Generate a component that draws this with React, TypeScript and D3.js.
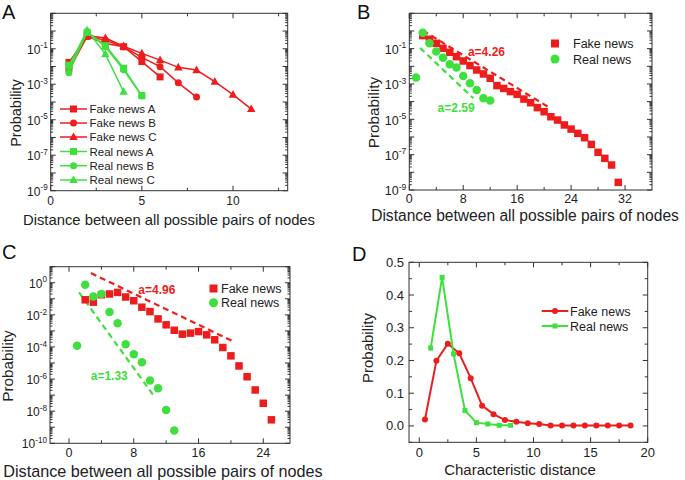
import React from 'react';
import * as d3 from 'd3';

const RED = '#ee1d1d';
const GREEN = '#3ee03e';
const FONT = 'Liberation Sans, Arial, sans-serif';

// ---------- Panel A ----------
const fakeA_x = [1, 2, 3, 4, 5, 6];
const fakeA_y = [0.017, 0.5, 0.2, 0.13, 0.019, 0.0026];
const fakeB_x = [1, 2, 3, 4, 5, 6, 7, 8];
const fakeB_y = [0.006, 0.5, 0.3, 0.13, 0.033, 0.0098, 0.0012, 1.9e-4];
const fakeC_x = [1, 2, 3, 4, 5, 6, 7, 8, 9, 10, 11];
const fakeC_y = [0.012, 0.55, 0.4, 0.14, 0.055, 0.023, 0.009, 0.0063, 0.0014, 2.6e-4, 4e-5];
const realA_x = [1, 2, 3, 4, 5];
const realA_y = [0.012, 0.85, 0.15, 0.008, 2.3e-4];
const realB_x = [1, 2, 3, 4, 5];
const realB_y = [0.0045, 0.9, 0.13, 0.0065, 2.2e-4];
const realC_x = [1, 2, 3, 4];
const realC_y = [0.01, 1.1, 0.05, 3.8e-4];
const legendA = ['Fake news A', 'Fake news B', 'Fake news C', 'Real news A', 'Real news B', 'Real news C'];

// ---------- Panel B ----------
const distB_fake = [2, 3, 4, 5, 6, 7, 8, 9, 10, 11, 12, 13, 14, 15, 16, 17, 18, 19, 20, 21, 22, 23, 24, 25, 26, 27, 28, 29, 30, 31];
const probB_fake = [0.55, 0.34, 0.2, 0.105, 0.062, 0.035, 0.02, 0.011, 0.0062, 0.0037, 0.0021, 8.1e-4, 5.6e-4, 3.7e-4, 2.6e-4, 1.4e-4, 8.7e-5, 4.6e-5, 2.7e-5, 1.4e-5, 9.1e-6, 4.8e-6, 2.8e-6, 1.6e-6, 9.1e-7, 3.8e-7, 1.35e-7, 6.2e-8, 2.6e-8, 2.7e-9];
const distB_real = [1, 2, 3, 4, 5, 6, 7, 8, 9, 10, 11, 12];
const probB_real = [0.0023, 0.8, 0.2, 0.068, 0.031, 0.013, 0.0087, 0.0028, 0.0011, 4.6e-4, 1.55e-4, 1.15e-4];
const fitB_fake_x = [2, 20.7];
const fitB_fake_y = [1.05, 4.8e-5];
const fitB_real_x = [1.6, 9.5];
const fitB_real_y = [0.11, 1.55e-4];

// ---------- Panel C ----------
const distC_fake = [2, 3, 4, 5, 6, 7, 8, 9, 10, 11, 12, 13, 14, 15, 16, 17, 18, 19, 20, 21, 22, 23, 24, 25];
const probC_fake = [0.087, 0.062, 0.18, 0.2, 0.25, 0.13, 0.076, 0.03, 0.016, 0.0056, 0.0024, 0.0011, 6.3e-4, 7.3e-4, 9.1e-4, 5.7e-4, 2.8e-4, 9.3e-5, 2.8e-5, 6.6e-6, 1.4e-6, 2.1e-7, 3.1e-8, 2.9e-9];
const distC_real = [1, 2, 3, 4, 5, 6, 7, 8, 9, 10, 11, 12, 13];
const probC_real = [1.2e-4, 0.76, 0.14, 0.2, 0.015, 0.003, 1.5e-4, 3.5e-5, 1.1e-5, 8.1e-7, 2.7e-7, 1.2e-8, 6.2e-10];
const fitC_fake_x = [2.7, 20.3];
const fitC_fake_y = [4.0, 2.2e-4];
const fitC_real_x = [1.24, 10.6];
const fitC_real_y = [0.25, 7.4e-8];

// ---------- Panel D ----------
const charD_fake = [0.5, 1.5, 2.5, 3.5, 4.5, 5.5, 6.5, 7.5, 8.5, 9.5, 10.5, 11.5, 12.5, 13.5, 14.5, 15.5, 16.5, 17.5, 18.5];
const probD_fake = [0.02, 0.199, 0.251, 0.222, 0.146, 0.062, 0.036, 0.018, 0.013, 0.008, 0.006, 0.001, 0.001, 0.001, 0.001, 0.001, 0.001, 0.001, 0.001];
const charD_real = [1, 2, 3, 4, 5, 6, 7, 8];
const probD_real = [0.238, 0.454, 0.22, 0.047, 0.01, 0.006, 0.002, 0.002];

type Sc = (v: number) => number;

function Frame({ x0, x1, y0, y1 }: { x0: number; x1: number; y0: number; y1: number }) {
  return <rect x={x0} y={y0} width={x1 - x0} height={y1 - y0} fill="none" stroke="#333" strokeWidth={1} />;
}

function XTicks({ x, y0, y1, major, minor, labels, fs, dy }: { x: Sc; y0: number; y1: number; major: number[]; minor: number[]; labels: string[]; fs: number; dy: number }) {
  return (
    <g stroke="#333" strokeWidth={1}>
      {major.map((v, i) => (
        <g key={'M' + i}>
          <line x1={x(v)} x2={x(v)} y1={y1} y2={y1 - 5} />
          <line x1={x(v)} x2={x(v)} y1={y0} y2={y0 + 5} />
          <text x={x(v)} y={y1 + dy} textAnchor="middle" fontSize={fs} fill="#222" stroke="none" fontFamily={FONT}>{labels[i]}</text>
        </g>
      ))}
      {minor.map((v, i) => (
        <g key={'m' + i}>
          <line x1={x(v)} x2={x(v)} y1={y1} y2={y1 - 3} />
          <line x1={x(v)} x2={x(v)} y1={y0} y2={y0 + 3} />
        </g>
      ))}
    </g>
  );
}

function LogYTicks({ y, x0, x1, lo, hi, labelExps, fs }: { y: Sc; x0: number; x1: number; lo: number; hi: number; labelExps: number[]; fs: number }) {
  const majors = d3.range(lo, hi + 1);
  const minors: number[] = [];
  majors.slice(0, -1).forEach((e) => {
    for (let k = 2; k <= 9; k++) minors.push(k * Math.pow(10, e));
  });
  return (
    <g stroke="#333" strokeWidth={1}>
      {majors.map((e) => {
        const yy = y(Math.pow(10, e));
        return (
          <g key={'M' + e}>
            <line x1={x0} x2={x0 + 5} y1={yy} y2={yy} />
            <line x1={x1} x2={x1 - 5} y1={yy} y2={yy} />
            {labelExps.includes(e) && (
              <text x={x0 - 3} y={yy + fs * 0.42} textAnchor="end" fontSize={fs} fill="#222" stroke="none" fontFamily={FONT}>
                10<tspan dy={-fs * 0.45} fontSize={fs * 0.68}>{String(e)}</tspan>
              </text>
            )}
          </g>
        );
      })}
      {minors.map((v, i) => (
        <g key={'m' + i}>
          <line x1={x0} x2={x0 + 2.5} y1={y(v)} y2={y(v)} />
          <line x1={x1} x2={x1 - 2.5} y1={y(v)} y2={y(v)} />
        </g>
      ))}
    </g>
  );
}

function Marker({ shape, cx, cy, size, color }: { shape: string; cx: number; cy: number; size: number; color: string }) {
  if (shape === 'square') return <rect x={cx - size / 2} y={cy - size / 2} width={size} height={size} fill={color} />;
  if (shape === 'circle') return <circle cx={cx} cy={cy} r={size / 2} fill={color} />;
  const h = size * 0.9;
  return <path d={`M${cx},${cy - h * 0.6} L${cx + size / 2},${cy + h * 0.4} L${cx - size / 2},${cy + h * 0.4} Z`} fill={color} />;
}

function Series({ xs, ys, x, y, shape, size, color, line, lw }: { xs: number[]; ys: number[]; x: Sc; y: Sc; shape: string; size: number; color: string; line: boolean; lw?: number }) {
  const pts: [number, number][] = xs.map((v, i) => [x(v), y(ys[i])]);
  return (
    <g>
      {line && <path d={d3.line()(pts) || ''} fill="none" stroke={color} strokeWidth={lw || 1.5} />}
      {pts.map((p, i) => <Marker key={i} shape={shape} cx={p[0]} cy={p[1]} size={size} color={color} />)}
    </g>
  );
}

function Dashed({ xs, ys, x, y, color }: { xs: number[]; ys: number[]; x: Sc; y: Sc; color: string }) {
  const pts: [number, number][] = xs.map((v, i) => [x(v), y(ys[i])]);
  return <path d={d3.line()(pts) || ''} fill="none" stroke={color} strokeWidth={2.2} strokeDasharray="6,4" />;
}

export default function App() {
  // Panel A scales
  const xA = d3.scaleLinear().domain([0, 13]).range([50.7, 287.7]);
  const yA = d3.scaleLog().domain([1e-9, 10]).range([190.7, 13.3]);
  // Panel B
  const xB = d3.scaleLinear().domain([0, 36]).range([409.3, 652]);
  const yB = d3.scaleLog().domain([1e-9, 10]).range([190, 13.3]);
  // Panel C
  const xC = d3.scaleLinear().domain([-2.35, 27.3]).range([50, 290]);
  const yC = d3.scaleLog().domain([1e-10, 10]).range([443.3, 266.7]);
  // Panel D
  const xD = d3.scaleLinear().domain([-0.9, 20]).range([409, 647.7]);
  const yD = d3.scaleLinear().domain([-0.05, 0.5]).range([442.3, 262.3]);

  const seriesA = [
    { xs: fakeA_x, ys: fakeA_y, shape: 'square', color: RED },
    { xs: fakeB_x, ys: fakeB_y, shape: 'circle', color: RED },
    { xs: fakeC_x, ys: fakeC_y, shape: 'triangle', color: RED },
    { xs: realA_x, ys: realA_y, shape: 'square', color: GREEN },
    { xs: realB_x, ys: realB_y, shape: 'circle', color: GREEN },
    { xs: realC_x, ys: realC_y, shape: 'triangle', color: GREEN },
  ];
  const legYA = [109, 123, 137, 151.5, 165.7, 180];

  return (
    <svg width={685} height={480} style={{ position: 'absolute', left: 0, top: 0, background: '#fff' }} fontFamily={FONT}>
      <rect width={685} height={480} fill="#fff" />

      {/* ================= Panel A ================= */}
      <text x={2} y={18.5} fontSize={20} fill="#111">A</text>
      <XTicks x={xA} y0={13.3} y1={190.7} major={[0, 5, 10]} minor={[2.5, 7.5, 12.5]} labels={['0', '5', '10']} fs={12} dy={14} />
      <LogYTicks y={yA} x0={50.7} x1={287.7} lo={-9} hi={1} labelExps={[-9, -7, -5, -3, -1]} fs={12} />
      <Frame x0={50.7} x1={287.7} y0={13.3} y1={190.7} />
      {seriesA.map((s, i) => (
        <Series key={i} xs={s.xs} ys={s.ys} x={xA} y={yA} shape={s.shape} size={s.shape === 'triangle' ? 8.5 : 7} color={s.color} line lw={1.5} />
      ))}
      {legendA.map((t, i) => (
        <g key={t}>
          <line x1={60} x2={87} y1={legYA[i]} y2={legYA[i]} stroke={seriesA[i].color} strokeWidth={1.5} />
          <Marker shape={seriesA[i].shape} cx={73.5} cy={legYA[i]} size={seriesA[i].shape === 'triangle' ? 8.5 : 7} color={seriesA[i].color} />
          <text x={89.5} y={legYA[i] + 4} fontSize={11.5} fill="#222">{t}</text>
        </g>
      ))}
      <text x={169} y={225} textAnchor="middle" fontSize={14.8} fill="#222">Distance between all possible pairs of nodes</text>
      <text transform="translate(21,113) rotate(-90)" textAnchor="middle" fontSize={14.5} fill="#222">Probability</text>

      {/* ================= Panel B ================= */}
      <text x={357} y={18.5} fontSize={20} fill="#111">B</text>
      <XTicks x={xB} y0={13.3} y1={190} major={[0, 8, 16, 24, 32]} minor={[4, 12, 20, 28]} labels={['0', '8', '16', '24', '32']} fs={12.5} dy={13} />
      <LogYTicks y={yB} x0={409.3} x1={652} lo={-9} hi={1} labelExps={[-9, -7, -5, -3, -1]} fs={12.5} />
      <Frame x0={409.3} x1={652} y0={13.3} y1={190} />
      <Dashed xs={fitB_fake_x} ys={fitB_fake_y} x={xB} y={yB} color={RED} />
      <Dashed xs={fitB_real_x} ys={fitB_real_y} x={xB} y={yB} color={GREEN} />
      <Series xs={distB_fake} ys={probB_fake} x={xB} y={yB} shape="square" size={7.5} color={RED} line={false} />
      <Series xs={distB_real} ys={probB_real} x={xB} y={yB} shape="circle" size={8.5} color={GREEN} line={false} />
      <text x={xB(8.7)} y={yB(0.038)} fontSize={12} fontWeight="bold" fill={RED}>a=4.26</text>
      <text x={xB(4.2)} y={yB(2.6e-5)} fontSize={12} fontWeight="bold" fill={GREEN}>a=2.59</text>
      <rect x={551} y={39.5} width={8} height={8} fill={RED} />
      <text x={573} y={48} fontSize={12.5} fill="#222">Fake news</text>
      <circle cx={555} cy={59} r={4.5} fill={GREEN} />
      <text x={573} y={63.5} fontSize={12.5} fill="#222">Real news</text>
      <text x={525} y={220.5} textAnchor="middle" fontSize={15.6} fill="#222">Distance between all possible pairs of nodes</text>
      <text transform="translate(379,112.5) rotate(-90)" textAnchor="middle" fontSize={15.3} fill="#222">Probability</text>

      {/* ================= Panel C ================= */}
      <text x={2} y={259} fontSize={20} fill="#111">C</text>
      <XTicks x={xC} y0={266.7} y1={443.3} major={[0, 8, 16, 24]} minor={[4, 12, 20]} labels={['0', '8', '16', '24']} fs={12.5} dy={14} />
      <LogYTicks y={yC} x0={50} x1={290} lo={-10} hi={1} labelExps={[-10, -8, -6, -4, -2, 0]} fs={12} />
      <Frame x0={50} x1={290} y0={266.7} y1={443.3} />
      <Dashed xs={fitC_fake_x} ys={fitC_fake_y} x={xC} y={yC} color={RED} />
      <Dashed xs={fitC_real_x} ys={fitC_real_y} x={xC} y={yC} color={GREEN} />
      <Series xs={distC_fake} ys={probC_fake} x={xC} y={yC} shape="square" size={7.5} color={RED} line={false} />
      <Series xs={distC_real} ys={probC_real} x={xC} y={yC} shape="circle" size={8.5} color={GREEN} line={false} />
      <text x={xC(8.56)} y={yC(0.19)} fontSize={12} fontWeight="bold" fill={RED}>a=4.96</text>
      <text x={xC(2.68)} y={yC(9.3e-7)} fontSize={12} fontWeight="bold" fill={GREEN}>a=1.33</text>
      <rect x={209.5} y={284.5} width={8} height={8} fill={RED} />
      <text x={221} y={293} fontSize={12.5} fill="#222">Fake news</text>
      <circle cx={213.5} cy={302.7} r={4.5} fill={GREEN} />
      <text x={221} y={307.2} fontSize={12.5} fill="#222">Real news</text>
      <text x={163} y={476.5} textAnchor="middle" fontSize={16.2} fill="#222">Distance between all possible pairs of nodes</text>
      <text transform="translate(13,366) rotate(-90)" textAnchor="middle" fontSize={15.3} fill="#222">Probability</text>

      {/* ================= Panel D ================= */}
      <text x={352} y={261} fontSize={20} fill="#111">D</text>
      <XTicks x={xD} y0={262.3} y1={442.3} major={[0, 5, 10, 15, 20]} minor={[2.5, 7.5, 12.5, 17.5]} labels={['0', '5', '10', '15', '20']} fs={13} dy={15} />
      <g stroke="#333" strokeWidth={1}>
        {d3.range(0, 0.51, 0.1).map((v) => (
          <g key={'dy' + v}>
            <line x1={409} x2={414} y1={yD(v)} y2={yD(v)} />
            <line x1={647.7} x2={642.7} y1={yD(v)} y2={yD(v)} />
            <text x={404} y={yD(v) + 4.5} textAnchor="end" fontSize={13} fill="#222" stroke="none">{d3.format('.1f')(v)}</text>
          </g>
        ))}
        {d3.range(-0.05, 0.5, 0.1).map((v) => (
          <g key={'dm' + v}>
            <line x1={409} x2={412} y1={yD(v)} y2={yD(v)} />
            <line x1={647.7} x2={644.7} y1={yD(v)} y2={yD(v)} />
          </g>
        ))}
      </g>
      <Frame x0={409} x1={647.7} y0={262.3} y1={442.3} />
      <Series xs={charD_fake} ys={probD_fake} x={xD} y={yD} shape="circle" size={6} color={RED} line lw={2} />
      <Series xs={charD_real} ys={probD_real} x={xD} y={yD} shape="square" size={5} color={GREEN} line lw={2} />
      <line x1={541.7} x2={568.3} y1={311} y2={311} stroke={RED} strokeWidth={2} />
      <circle cx={555} cy={311} r={3} fill={RED} />
      <text x={570} y={315.5} fontSize={12.5} fill="#222">Fake news</text>
      <line x1={541.7} x2={568.3} y1={326} y2={326} stroke={GREEN} strokeWidth={2} />
      <rect x={552.5} y={323.5} width={5} height={5} fill={GREEN} />
      <text x={570} y={330.5} fontSize={12.5} fill="#222">Real news</text>
      <text x={520} y={475} textAnchor="middle" fontSize={15} fill="#222">Characteristic distance</text>
      <text transform="translate(373,348) rotate(-90)" textAnchor="middle" fontSize={15} fill="#222">Probability</text>
    </svg>
  );
}
